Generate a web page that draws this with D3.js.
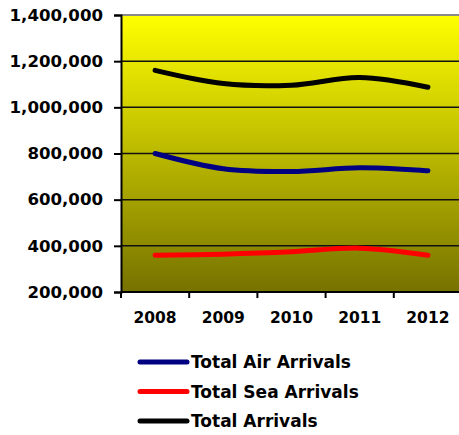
<!DOCTYPE html>
<html>
<head>
<meta charset="utf-8">
<script src="https://cdn.jsdelivr.net/npm/d3@7"></script>
<style>
  body { margin: 0; background: #fff; }
  text { font-family: "DejaVu Sans", Verdana, sans-serif; font-weight: bold; fill: #000; }
</style>
</head>
<body>
<script>
// Data
const years = ["2008", "2009", "2010", "2011", "2012"];
const airArrivals = [800000, 734000, 722000, 738000, 725000];
const seaArrivals = [359000, 364000, 374000, 390000, 359000];
const totalArrivals = [1160000, 1103000, 1096000, 1129000, 1087000];
const yTicks = [200000, 400000, 600000, 800000, 1000000, 1200000, 1400000];

const series = [
  { name: "Total Air Arrivals", values: airArrivals, color: "#000080" },
  { name: "Total Sea Arrivals", values: seaArrivals, color: "#ff0000" },
  { name: "Total Arrivals", values: totalArrivals, color: "#000000" }
];

const W = 459, H = 435;
const plot = { left: 121, right: 462, top: 15, bottom: 292 };

const svg = d3.select("body")
  .append("svg")
    .attr("width", W)
    .attr("height", H);

// Gradient for plot area
const grad = svg.append("defs").append("linearGradient")
    .attr("id", "bg")
    .attr("x1", 0).attr("y1", 0).attr("x2", 0).attr("y2", 1);
grad.append("stop").attr("offset", "0%").attr("stop-color", "#ffff00");
grad.append("stop").attr("offset", "100%").attr("stop-color", "#767200");

// Scales
const x = d3.scaleBand()
  .domain(years)
  .range([plot.left, plot.right]);

const y = d3.scaleLinear()
  .domain([200000, 1400000])
  .range([plot.bottom, plot.top]);

// Plot background
svg.append("rect")
  .attr("x", plot.left)
  .attr("y", plot.top)
  .attr("width", plot.right - plot.left)
  .attr("height", plot.bottom - plot.top)
  .attr("fill", "url(#bg)");

// Top border
svg.append("line")
  .attr("x1", plot.left).attr("x2", plot.right)
  .attr("y1", plot.top).attr("y2", plot.top)
  .attr("stroke", "#8a8a8a")
  .attr("stroke-width", 2);

// Gridlines
svg.append("g")
  .selectAll("line")
  .data(yTicks.filter(d => d > 200000 && d < 1400000))
  .join("line")
    .attr("x1", plot.left).attr("x2", plot.right)
    .attr("y1", d => y(d)).attr("y2", d => y(d))
    .attr("stroke", "#111")
    .attr("stroke-width", 1.5);

// Y axis
const yAxis = svg.append("g")
  .attr("transform", `translate(${plot.left},0)`)
  .call(d3.axisLeft(y)
    .tickValues(yTicks)
    .tickFormat(d3.format(","))
    .tickSize(7)
    .tickPadding(11));
yAxis.select(".domain").attr("stroke", "#000").attr("stroke-width", 2);
yAxis.selectAll(".tick line").attr("stroke", "#000").attr("stroke-width", 2);
yAxis.selectAll(".tick text")
  .attr("font-size", 16.6)
  .attr("font-family", "DejaVu Sans, sans-serif")
  .attr("font-weight", "bold")
  .attr("fill", "#000");

// X axis (ticks on category boundaries)
const xAxisG = svg.append("g");
xAxisG.append("line")
  .attr("x1", plot.left).attr("x2", plot.right)
  .attr("y1", plot.bottom).attr("y2", plot.bottom)
  .attr("stroke", "#000")
  .attr("stroke-width", 2);
xAxisG.selectAll(".xtick")
  .data(years)
  .join("line")
    .attr("class", "xtick")
    .attr("x1", d => x(d)).attr("x2", d => x(d))
    .attr("y1", plot.bottom).attr("y2", plot.bottom + 6)
    .attr("stroke", "#000")
    .attr("stroke-width", 2);
xAxisG.selectAll(".xlabel")
  .data(years)
  .join("text")
    .attr("class", "xlabel")
    .attr("x", d => x(d) + x.bandwidth() / 2)
    .attr("y", 323)
    .attr("text-anchor", "middle")
    .attr("font-size", 15.5)
    .text(d => d);

// Lines
const line = d3.line()
  .x((d, i) => x(years[i]) + x.bandwidth() / 2)
  .y(d => y(d))
  .curve(d3.curveCatmullRom.alpha(0.5));

svg.append("g")
  .selectAll("path")
  .data(series)
  .join("path")
    .attr("fill", "none")
    .attr("stroke", d => d.color)
    .attr("stroke-width", 5)
    .attr("stroke-linecap", "round")
    .attr("stroke-linejoin", "round")
    .attr("d", d => line(d.values));

// Legend
const legend = svg.append("g")
  .selectAll("g")
  .data(series)
  .join("g")
    .attr("transform", (d, i) => `translate(0,${362 + i * 29.5})`);

legend.append("line")
  .attr("x1", 140).attr("x2", 187)
  .attr("stroke", d => d.color)
  .attr("stroke-width", 5)
  .attr("stroke-linecap", "round");

legend.append("text")
  .attr("x", 191)
  .attr("dy", "0.36em")
  .attr("font-size", 17)
  .text(d => d.name);
</script>
</body>
</html>
